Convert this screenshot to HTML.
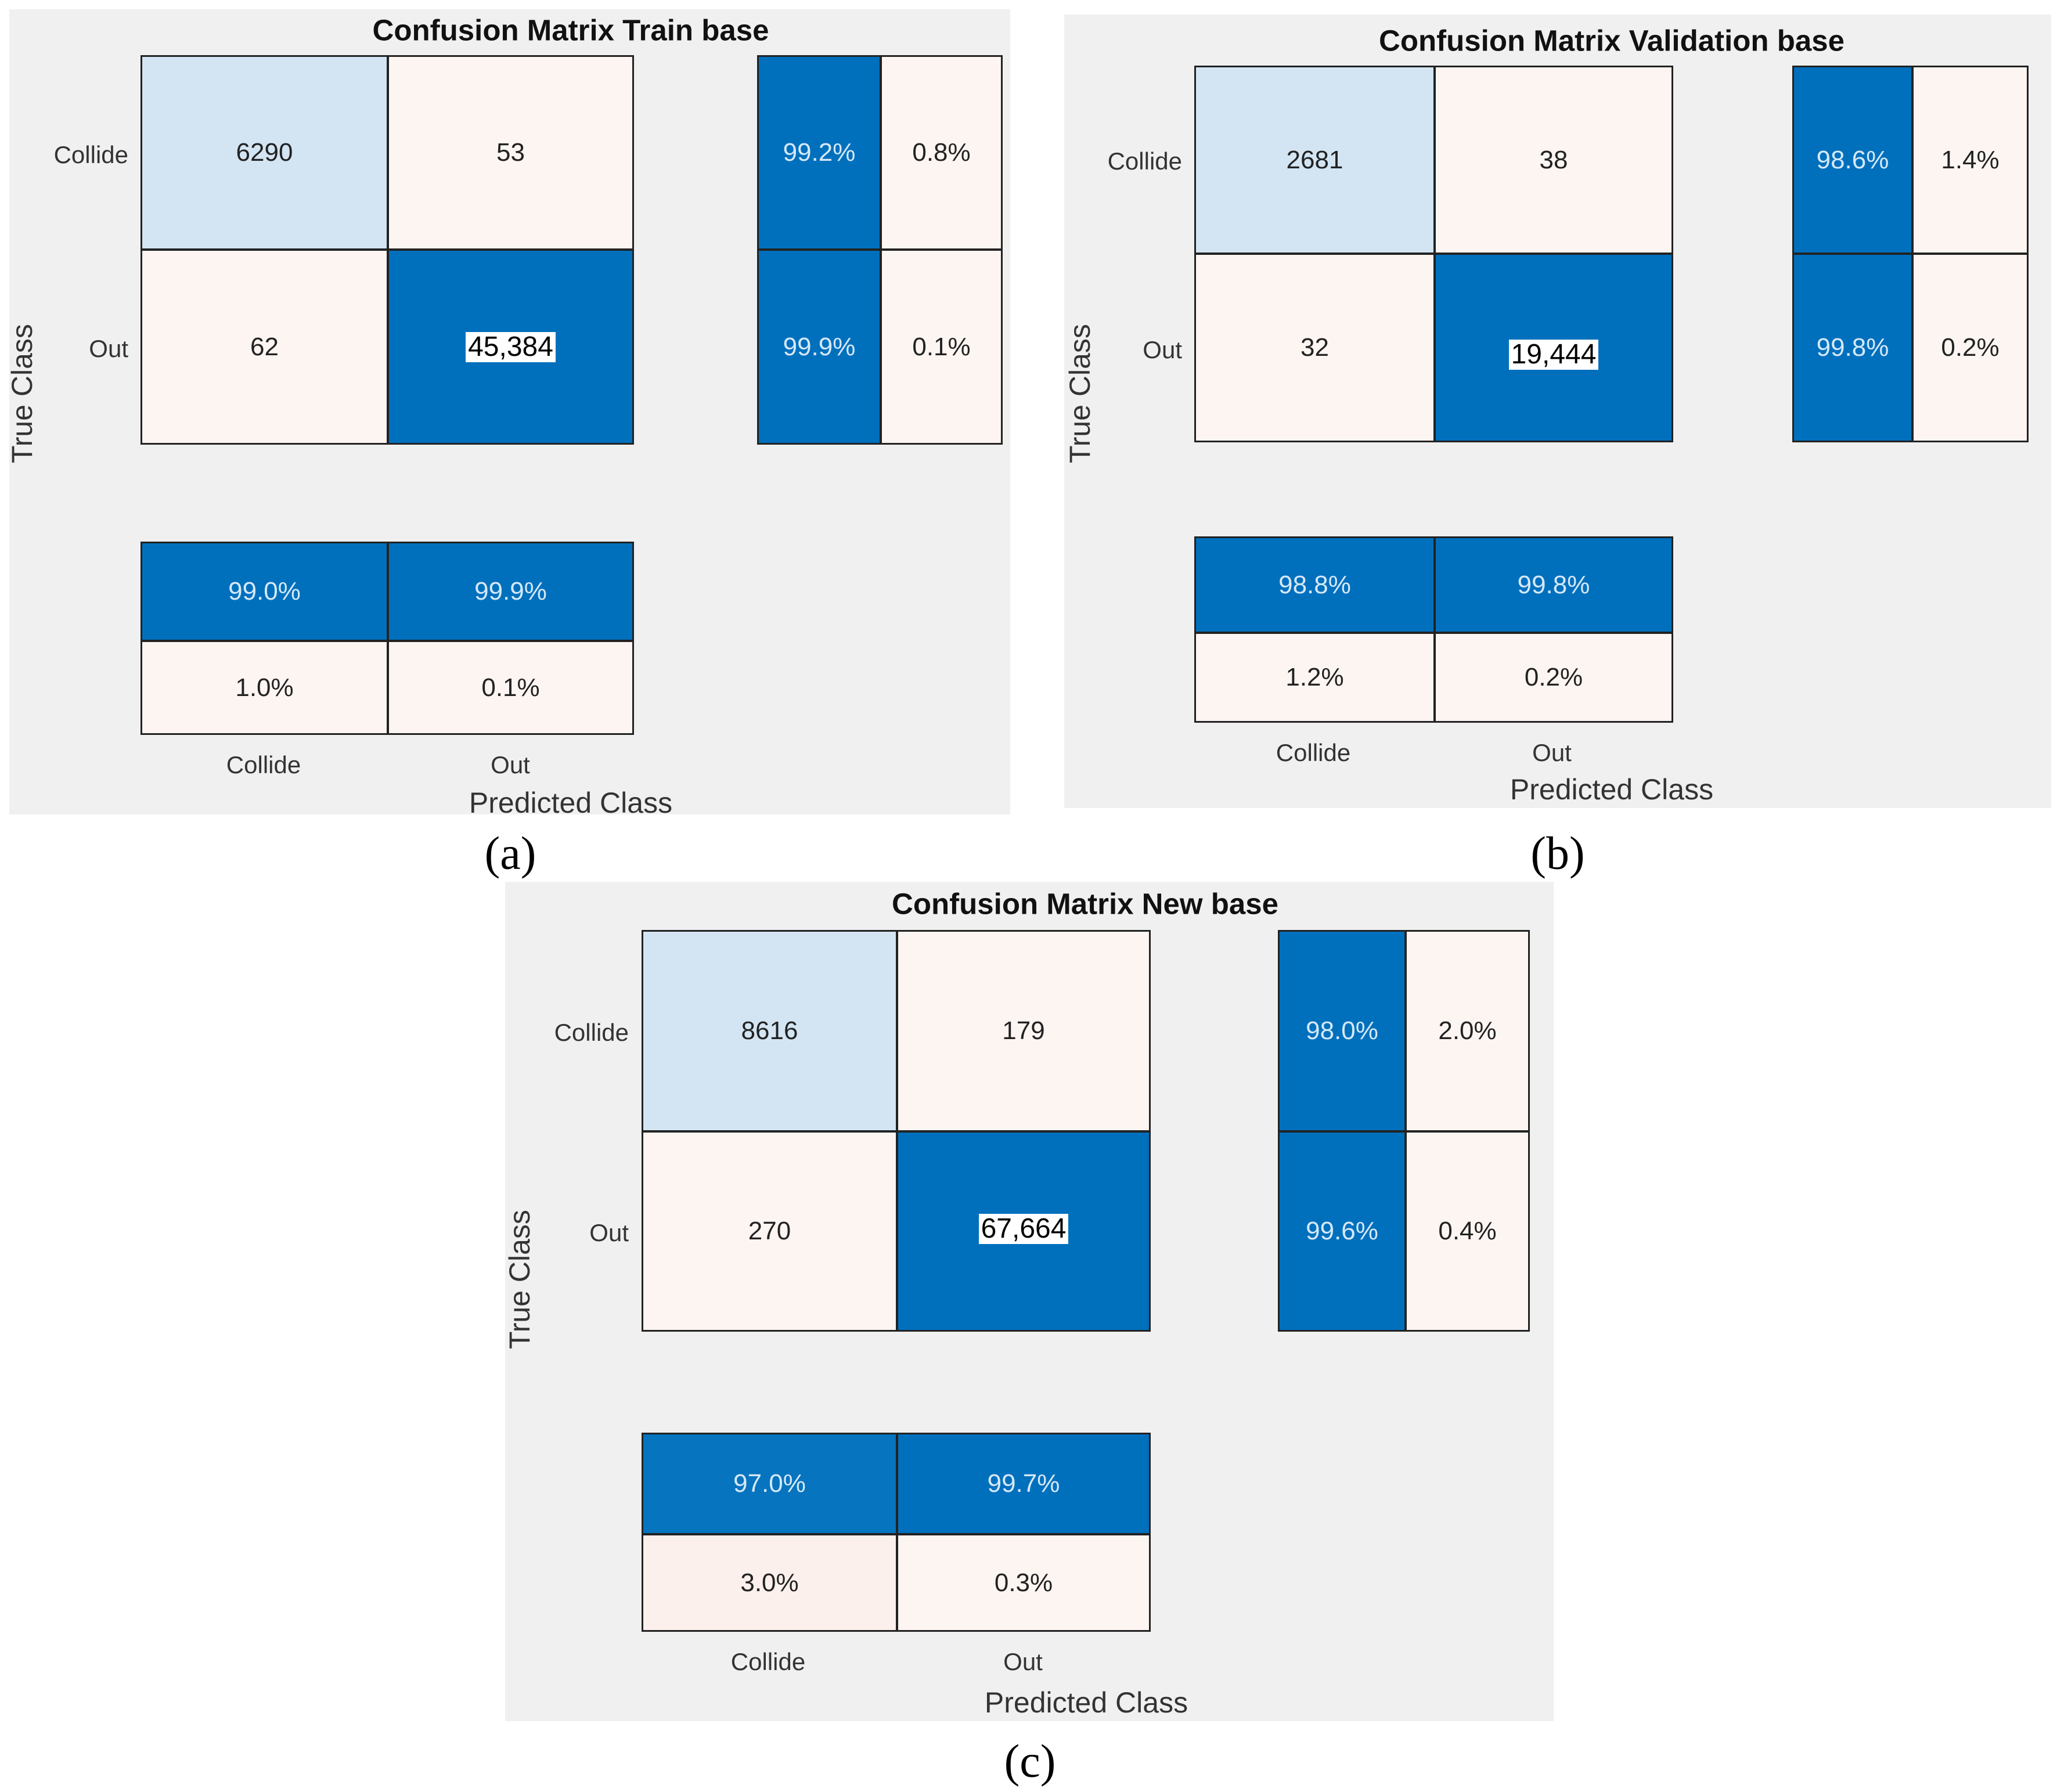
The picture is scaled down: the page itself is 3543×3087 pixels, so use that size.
<!DOCTYPE html>
<html><head><meta charset="utf-8"><style>
body{margin:0;width:3543px;height:3087px;background:#fff;position:relative;overflow:hidden;font-family:"Liberation Sans",sans-serif;}
div{position:absolute;box-sizing:border-box;}
.bg{background:#f0f0f0;}
.c{border:3px solid #222;display:flex;align-items:center;justify-content:center;font-size:44px;color:#222;}
.p{background:#fdf5f2;}
.l{background:#d3e5f3;}
.b{background:#0070bd;color:#d6e8f7;}
.box{background:#fff;color:#000;padding:0 4px;font-size:48px;line-height:52px;}
.t{font-weight:bold;font-size:51px;color:#111;transform:translate(-50%,-50%);white-space:nowrap;}
.lab{font-size:42px;color:#333;white-space:nowrap;}
.lr{transform:translate(-100%,-50%);}
.lc{transform:translate(-50%,-50%);}
.pc{font-size:50px;color:#333;transform:translate(-50%,-50%);white-space:nowrap;}
.tc{font-size:50px;color:#333;white-space:nowrap;transform:translate(-50%,-50%) rotate(-90deg);}
.cap{font-family:"Liberation Serif",serif;font-size:80px;color:#000;transform:translate(-50%,-50%);}
</style></head><body>

<!-- Panel a -->
<div class="bg" style="left:16px;top:16px;width:1724px;height:1387px"></div>
<div class="t" style="left:983px;top:52px">Confusion Matrix Train base</div>
<div class="c l" style="left:242px;top:95px;width:427px;height:336px">6290</div>
<div class="c p" style="left:667px;top:95px;width:425px;height:336px">53</div>
<div class="c p" style="left:242px;top:429px;width:427px;height:337px">62</div>
<div class="c b" style="left:667px;top:429px;width:425px;height:337px"><span class="box">45,384</span></div>
<div class="c b" style="left:1304px;top:95px;width:214px;height:336px">99.2%</div>
<div class="c p" style="left:1516px;top:95px;width:211px;height:336px">0.8%</div>
<div class="c b" style="left:1304px;top:429px;width:214px;height:337px">99.9%</div>
<div class="c p" style="left:1516px;top:429px;width:211px;height:337px">0.1%</div>
<div class="c b" style="left:242px;top:933px;width:427px;height:172px">99.0%</div>
<div class="c b" style="left:667px;top:933px;width:425px;height:172px">99.9%</div>
<div class="c p" style="left:242px;top:1103px;width:427px;height:163px">1.0%</div>
<div class="c p" style="left:667px;top:1103px;width:425px;height:163px">0.1%</div>
<div class="lab lr" style="left:221px;top:267px">Collide</div>
<div class="lab lr" style="left:221px;top:601px">Out</div>
<div class="tc" style="left:38px;top:678px">True Class</div>
<div class="lab lc" style="left:454px;top:1318px">Collide</div>
<div class="lab lc" style="left:879px;top:1318px">Out</div>
<div class="pc" style="left:983px;top:1383px">Predicted Class</div>
<div class="cap" style="left:879px;top:1471px">(a)</div>

<!-- Panel b -->
<div class="bg" style="left:1833px;top:25px;width:1700px;height:1367px"></div>
<div class="t" style="left:2776px;top:70px">Confusion Matrix Validation base</div>
<div class="c l" style="left:2057px;top:113px;width:415px;height:325px">2681</div>
<div class="c p" style="left:2470px;top:113px;width:412px;height:325px">38</div>
<div class="c p" style="left:2057px;top:436px;width:415px;height:326px">32</div>
<div class="c b" style="left:2470px;top:436px;width:412px;height:326px"><span class="box" style="margin-top:24px">19,444</span></div>
<div class="c b" style="left:3087px;top:113px;width:208px;height:325px">98.6%</div>
<div class="c p" style="left:3293px;top:113px;width:201px;height:325px">1.4%</div>
<div class="c b" style="left:3087px;top:436px;width:208px;height:326px">99.8%</div>
<div class="c p" style="left:3293px;top:436px;width:201px;height:326px">0.2%</div>
<div class="c b" style="left:2057px;top:924px;width:415px;height:167px">98.8%</div>
<div class="c b" style="left:2470px;top:924px;width:412px;height:167px">99.8%</div>
<div class="c p" style="left:2057px;top:1089px;width:415px;height:156px">1.2%</div>
<div class="c p" style="left:2470px;top:1089px;width:412px;height:156px">0.2%</div>
<div class="lab lr" style="left:2036px;top:278px">Collide</div>
<div class="lab lr" style="left:2036px;top:603px">Out</div>
<div class="tc" style="left:1860px;top:678px">True Class</div>
<div class="lab lc" style="left:2262px;top:1297px">Collide</div>
<div class="lab lc" style="left:2673px;top:1297px">Out</div>
<div class="pc" style="left:2776px;top:1360px">Predicted Class</div>
<div class="cap" style="left:2683px;top:1471px">(b)</div>

<!-- Panel c -->
<div class="bg" style="left:870px;top:1519px;width:1806px;height:1446px"></div>
<div class="t" style="left:1869px;top:1557px">Confusion Matrix New base</div>
<div class="c l" style="left:1105px;top:1602px;width:441px;height:348px">8616</div>
<div class="c p" style="left:1544px;top:1602px;width:438px;height:348px">179</div>
<div class="c p" style="left:1105px;top:1948px;width:441px;height:346px">270</div>
<div class="c b" style="left:1544px;top:1948px;width:438px;height:346px"><span class="box" style="margin-top:-8px">67,664</span></div>
<div class="c b" style="left:2201px;top:1602px;width:221px;height:348px">98.0%</div>
<div class="c p" style="left:2420px;top:1602px;width:215px;height:348px">2.0%</div>
<div class="c b" style="left:2201px;top:1948px;width:221px;height:346px">99.6%</div>
<div class="c p" style="left:2420px;top:1948px;width:215px;height:346px">0.4%</div>
<div class="c b" style="left:1105px;top:2468px;width:441px;height:176px;background:#0674be">97.0%</div>
<div class="c b" style="left:1544px;top:2468px;width:438px;height:176px">99.7%</div>
<div class="c p" style="left:1105px;top:2642px;width:441px;height:169px;background:#fbf0ec">3.0%</div>
<div class="c p" style="left:1544px;top:2642px;width:438px;height:169px">0.3%</div>
<div class="lab lr" style="left:1083px;top:1779px">Collide</div>
<div class="lab lr" style="left:1083px;top:2124px">Out</div>
<div class="tc" style="left:895px;top:2204px">True Class</div>
<div class="lab lc" style="left:1323px;top:2863px">Collide</div>
<div class="lab lc" style="left:1762px;top:2863px">Out</div>
<div class="pc" style="left:1871px;top:2933px">Predicted Class</div>
<div class="cap" style="left:1774px;top:3035px">(c)</div>
</body></html>
